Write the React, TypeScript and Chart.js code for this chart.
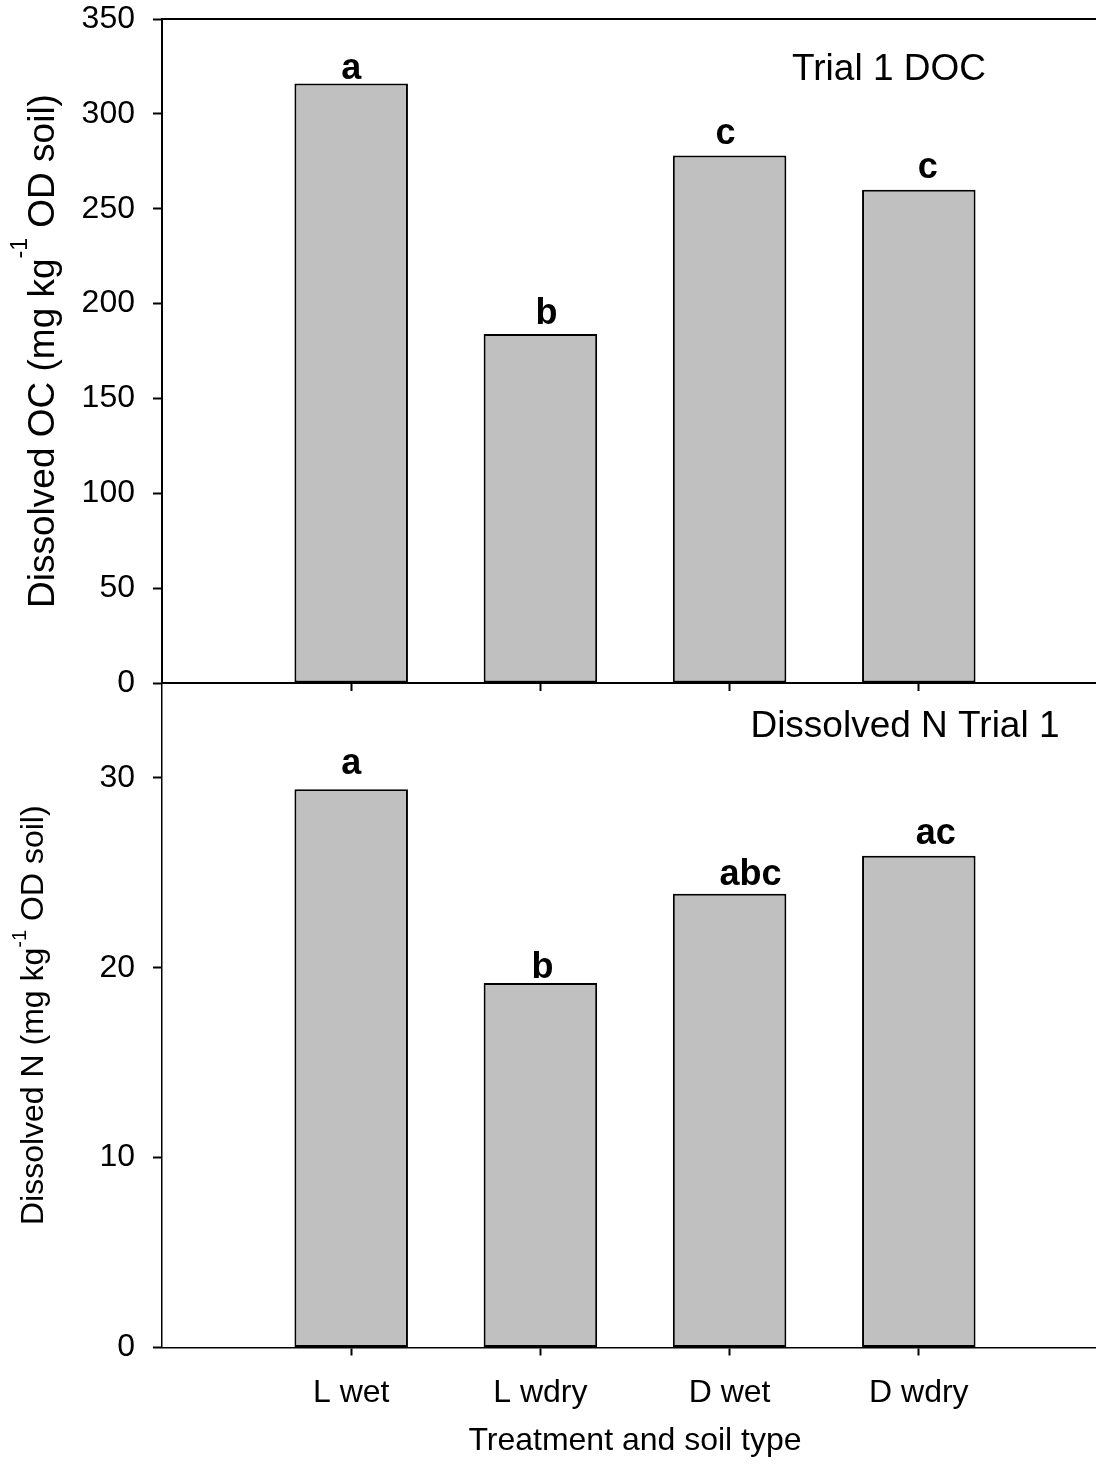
import { useEffect, useRef } from 'react';
import { Chart, registerables } from 'chart.js';

Chart.register(...registerables);

// ---- data ----
const categories = ['L wet', 'L wdry', 'D wet', 'D wdry'];
const catPositions = [1, 2, 3, 4];
const docValues = [316, 184, 278, 260];
const docLetters = ['a', 'b', 'c', 'c'];
const docTicks = [0, 50, 100, 150, 200, 250, 300, 350];
const dnValues = [29.4, 19.2, 23.9, 25.9];
const dnLetters = ['a', 'b', 'abc', 'ac'];
const dnTicks = [0, 10, 20, 30];

// letter label nudges (pixels): [dx, gap above bar top]
const docLetterNudge: [number, number][] = [[0, 5], [6, 10], [-4, 12], [9, 12]];
const dnLetterNudge: [number, number][] = [[0, 15], [2, 5], [21, 9], [17, 12]];

const FONT = "'Liberation Sans', Arial, Helvetica, sans-serif";
const W = 1110;
const H = 1468;

type Part = { text: string; sup?: boolean };
type PanelSpec = {
  values: number[];
  letters: string[];
  nudges: [number, number][];
  yMax: number;
  yTicks: number[];
  panelTitle: string;
  panelTitleAt: [number, number];
  yTitleParts: Part[];
  yTitleSize: number;
  yTitleBaselineX: number;
  supRaise: number;
  padTop: number;
  padBottom: number;
  xAxisHeight: number;
  showXLabels: boolean;
  topBorder: boolean;
  yBorderWidth: number;
  xBorderWidth: number;
};

function buildConfig(p: PanelSpec): any {
  const annot = {
    id: 'annot',
    afterDatasetsDraw(chart: any) {
      const ctx = chart.ctx;
      const meta = chart.getDatasetMeta(0);
      ctx.save();
      ctx.fillStyle = '#000';
      ctx.font = `bold 36px ${FONT}`;
      ctx.textAlign = 'center';
      ctx.textBaseline = 'alphabetic';
      meta.data.forEach((el: any, i: number) => {
        const [dx, gap] = p.nudges[i];
        ctx.fillText(p.letters[i], el.x + dx, el.y - gap);
      });
      ctx.restore();
    },
    afterDraw(chart: any) {
      const { ctx, chartArea, scales } = chart;
      ctx.save();
      if (p.topBorder) {
        ctx.strokeStyle = '#000';
        ctx.lineWidth = 2;
        ctx.beginPath();
        ctx.moveTo(chartArea.left, chartArea.top);
        ctx.lineTo(chartArea.right, chartArea.top);
        ctx.stroke();
      }
      // panel title
      ctx.fillStyle = '#000';
      ctx.font = `37px ${FONT}`;
      ctx.textAlign = 'left';
      ctx.textBaseline = 'middle';
      ctx.fillText(
        p.panelTitle,
        scales.x.getPixelForValue(p.panelTitleAt[0]),
        scales.y.getPixelForValue(p.panelTitleAt[1])
      );
      // rotated y title with superscript
      const size = p.yTitleSize;
      const supSize = Math.round(size * 0.62);
      const widths = p.yTitleParts.map((part) => {
        ctx.font = `${part.sup ? supSize : size}px ${FONT}`;
        return ctx.measureText(part.text).width;
      });
      const total = widths.reduce((a, b) => a + b, 0);
      const cy = (chartArea.top + chartArea.bottom) / 2;
      ctx.translate(p.yTitleBaselineX, cy);
      ctx.rotate(-Math.PI / 2);
      ctx.textAlign = 'left';
      ctx.textBaseline = 'alphabetic';
      let x = -total / 2;
      p.yTitleParts.forEach((part, i) => {
        ctx.font = `${part.sup ? supSize : size}px ${FONT}`;
        ctx.fillText(part.text, x, part.sup ? -p.supRaise : 0);
        x += widths[i];
      });
      ctx.restore();
    },
  };

  return {
    type: 'bar',
    data: {
      datasets: [
        {
          data: p.values.map((v, i) => ({ x: catPositions[i], y: v })),
          backgroundColor: '#c0c0c0',
          borderColor: '#000',
          borderWidth: 2,
          borderSkipped: false,
          barPercentage: 0.6,
          categoryPercentage: 1,
        },
      ],
    },
    options: {
      responsive: false,
      maintainAspectRatio: false,
      animation: false,
      events: [],
      devicePixelRatio: 1,
      layout: { padding: { top: p.padTop, bottom: p.padBottom, left: 0, right: 2 } },
      plugins: { legend: { display: false }, tooltip: { enabled: false }, title: { display: false } },
      scales: {
        x: {
          type: 'linear',
          min: 0,
          max: 5,
          offset: false,
          afterBuildTicks: (s: any) => {
            s.ticks = catPositions.map((v) => ({ value: v }));
          },
          afterFit: (s: any) => {
            s.height = p.xAxisHeight;
            s.paddingLeft = 0;
            s.paddingRight = 0;
          },
          ticks: {
            display: p.showXLabels,
            autoSkip: false,
            maxRotation: 0,
            padding: 18,
            color: '#000',
            font: { family: FONT, size: 32 },
            callback: (v: any) => {
              const i = catPositions.indexOf(Number(v));
              return i >= 0 ? categories[i] : '';
            },
          },
          grid: {
            drawOnChartArea: false,
            drawTicks: true,
            tickLength: 8,
            tickWidth: 2,
            tickColor: '#000',
            color: '#000',
            offset: false,
          },
          border: { display: true, color: '#000', width: p.xBorderWidth },
          title: {
            display: p.showXLabels,
            text: 'Treatment and soil type',
            color: '#000',
            font: { family: FONT, size: 32 },
            padding: { top: 0, bottom: 8 },
          },
        },
        y: {
          type: 'linear',
          min: 0,
          max: p.yMax,
          afterBuildTicks: (s: any) => {
            s.ticks = p.yTicks.map((v) => ({ value: v }));
          },
          afterFit: (s: any) => {
            s.width = 162;
            s.paddingTop = 0;
            s.paddingBottom = 0;
          },
          ticks: {
            padding: 18,
            color: '#000',
            font: { family: FONT, size: 32 },
          },
          grid: {
            drawOnChartArea: false,
            drawTicks: true,
            tickLength: 9,
            tickWidth: 2,
            tickColor: '#000',
            color: '#000',
          },
          border: { display: true, color: '#000', width: p.yBorderWidth },
        },
      },
    },
    plugins: [annot],
  };
}

const topSpec: PanelSpec = {
  values: docValues,
  letters: docLetters,
  nudges: docLetterNudge,
  yMax: 350,
  yTicks: docTicks,
  panelTitle: 'Trial 1 DOC',
  panelTitleAt: [3.33, 323],
  yTitleParts: [{ text: 'Dissolved OC (mg kg' }, { text: '-1', sup: true }, { text: ' OD soil)' }],
  yTitleSize: 37,
  yTitleBaselineX: 54,
  supRaise: 27,
  padTop: 19,
  padBottom: H - 700,
  xAxisHeight: 17,
  showXLabels: false,
  topBorder: true,
  yBorderWidth: 2,
  xBorderWidth: 2,
};

const bottomSpec: PanelSpec = {
  values: dnValues,
  letters: dnLetters,
  nudges: dnLetterNudge,
  yMax: 35,
  yTicks: dnTicks,
  panelTitle: 'Dissolved N Trial 1',
  panelTitleAt: [3.11, 32.7],
  yTitleParts: [{ text: 'Dissolved N (mg kg' }, { text: '-1', sup: true }, { text: ' OD soil)' }],
  yTitleSize: 32,
  yTitleBaselineX: 43,
  supRaise: 17,
  padTop: 683,
  padBottom: 0,
  xAxisHeight: H - 1347.5,
  showXLabels: true,
  topBorder: false,
  yBorderWidth: 1.5,
  xBorderWidth: 1.5,
};

function Panel({ spec }: { spec: PanelSpec }) {
  const ref = useRef<HTMLCanvasElement | null>(null);
  useEffect(() => {
    if (!ref.current) return;
    const chart = new Chart(ref.current, buildConfig(spec));
    return () => chart.destroy();
  }, [spec]);
  return (
    <canvas
      ref={ref}
      width={W}
      height={H}
      style={{ position: 'absolute', left: 0, top: 0, width: W, height: H }}
    />
  );
}

export default function App() {
  return (
    <div
      style={{
        position: 'absolute',
        left: 0,
        top: 0,
        width: 1096,
        height: H,
        overflow: 'hidden',
        background: '#fff',
      }}
    >
      <Panel spec={topSpec} />
      <Panel spec={bottomSpec} />
    </div>
  );
}
